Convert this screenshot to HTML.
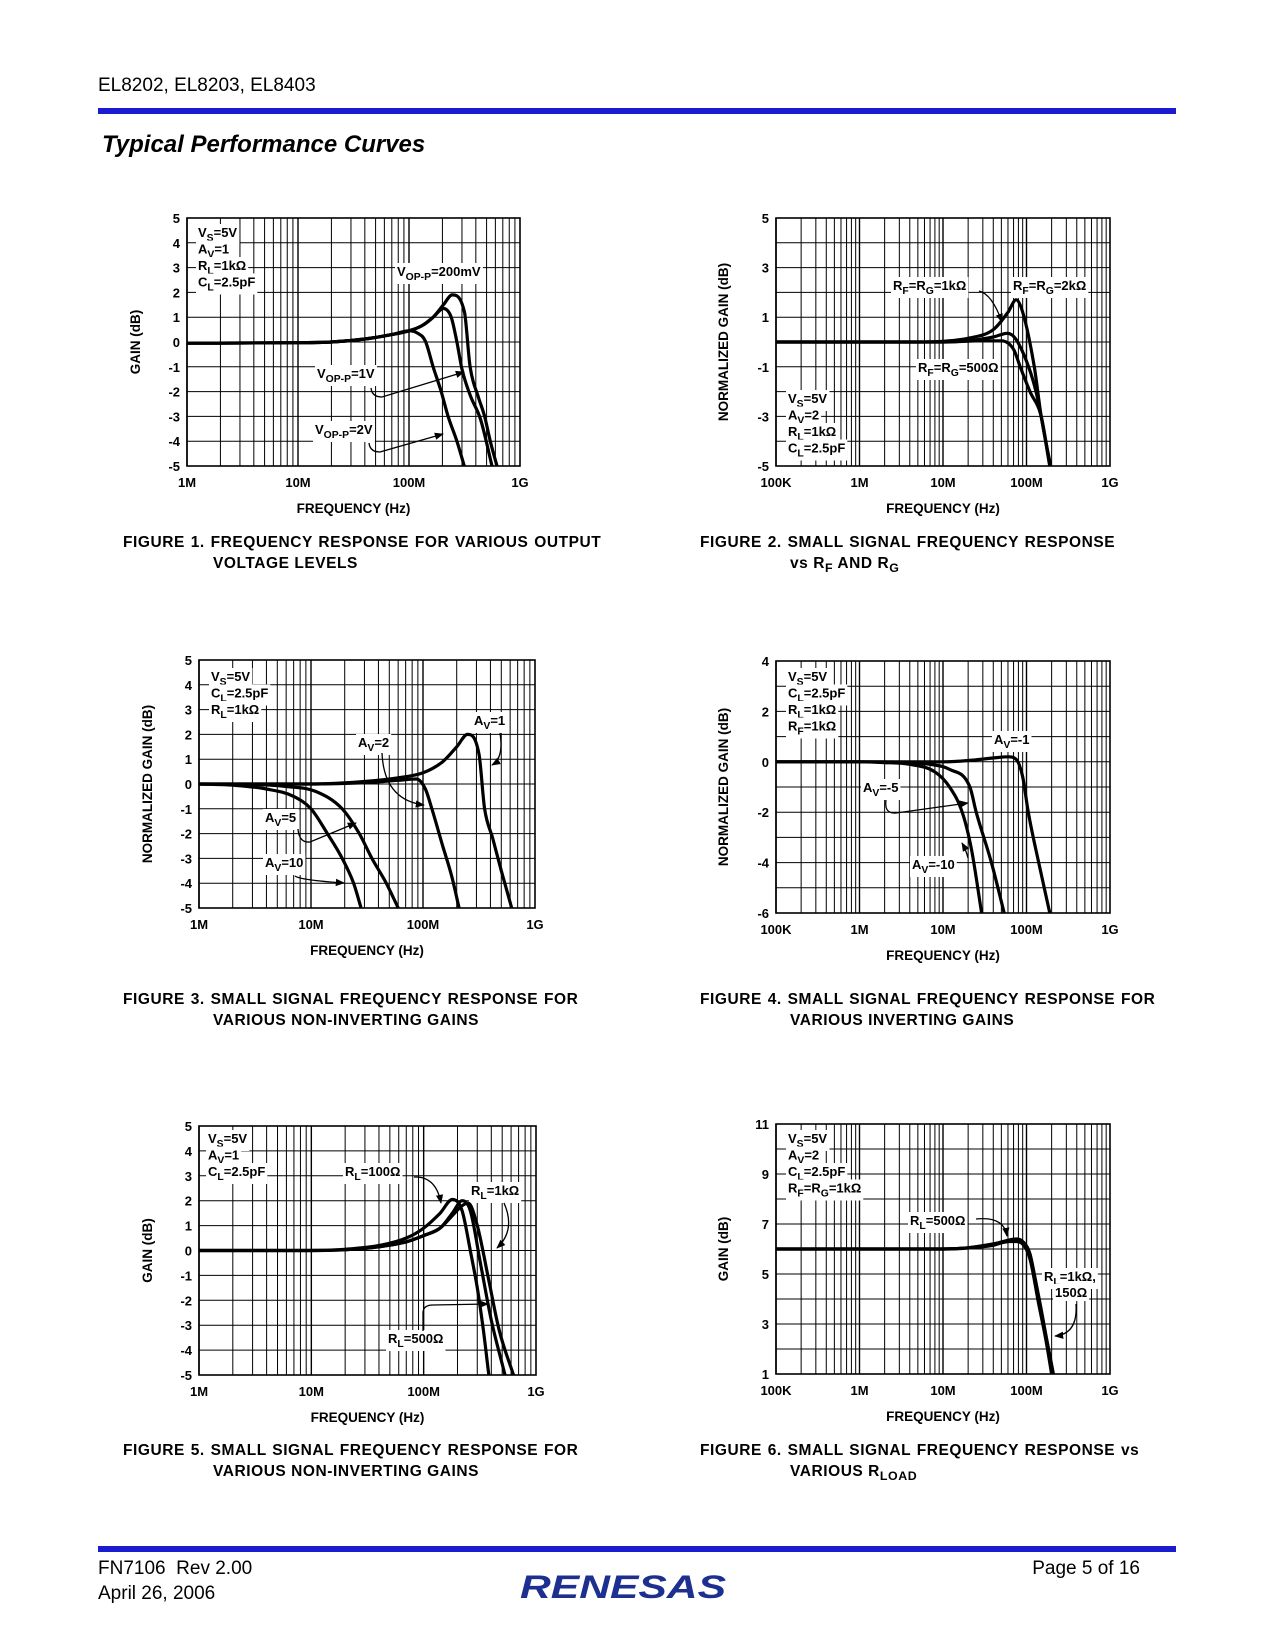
<!DOCTYPE html>
<html><head><meta charset="utf-8"><style>
html,body{margin:0;padding:0;background:#fff}
svg{display:block}
text{font-family:"Liberation Sans",Arial,sans-serif}
</style></head><body>
<svg id="page" width="1275" height="1650" viewBox="0 0 1275 1650" xmlns="http://www.w3.org/2000/svg">
<defs><marker id="ah" viewBox="0 0 10 10" refX="9" refY="5" markerWidth="7" markerHeight="7" orient="auto"><path d="M0,1 L10,5 L0,9 z" fill="#000"/></marker></defs>
<rect width="1275" height="1650" fill="#fff"/>
<text x="98" y="91" font-size="19">EL8202, EL8203, EL8403</text>
<rect x="98" y="108" width="1078" height="6" fill="#1b1bd0"/>
<text x="102" y="152" font-size="24" font-weight="bold" font-style="italic">Typical Performance Curves</text>
<rect x="98" y="1546" width="1078" height="6" fill="#1b1bd0"/>
<text x="98" y="1574" font-size="19" xml:space="preserve">FN7106  Rev 2.00</text>
<text x="98" y="1599" font-size="19">April 26, 2006</text>
<text x="1140" y="1574" font-size="19" text-anchor="end">Page 5 of 16</text>
<text x="520" y="1598" font-size="32" font-weight="bold" font-style="italic" fill="#1d2f8f" textLength="206" lengthAdjust="spacingAndGlyphs">RENESAS</text>
<g id="charts"></g>
</svg>
<script>
// ---------- DATA (frequencies in MHz, gains in dB) ----------
// Figure 1
const f1Freq200 = [1,10,20,40,70,100,130,165,204,245,316,355,420,480,540,620];
const f1Gain200 = [-0.05,-0.03,0,0.12,0.3,0.45,0.65,1.0,1.5,1.9,1.2,-1,-2.2,-3,-4,-5];
const f1Freq1V = [1,10,20,40,70,100,130,165,204,240,270,300,360,440,560];
const f1Gain1V = [-0.05,-0.03,0,0.12,0.3,0.45,0.65,1.0,1.35,1.0,0,-1.1,-2.2,-3.1,-5];
const f1Freq2V = [1,10,20,40,70,100,120,140,165,195,225,270,315];
const f1Gain2V = [-0.05,-0.03,0,0.12,0.3,0.45,0.35,0.05,-1,-2,-3,-4,-5];
const f1YTicks = ["5","4","3","2","1","0","-1","-2","-3","-4","-5"];
const f1XTicks = ["1M","10M","100M","1G"];
// Figure 2
const f2Freq500 = [0.1,1,10,30,50,70,84,110,150,190];
const f2Gain500 = [0,0,0,0.05,0.05,-0.3,-1,-2,-3,-5];
const f2Freq1k = [0.1,1,10,20,40,59,75,106,130,150,190];
const f2Gain1k = [0,0,0,0.05,0.2,0.35,0.1,-1,-2,-3,-5];
const f2Freq2k = [0.1,1,5,10,20,40,60,75,90,124,150,195];
const f2Gain2k = [0,0,0,0.03,0.15,0.5,1.2,1.7,1.2,-1,-3,-5];
const f2YTicks = ["5","3","1","-1","-3","-5"];
const f2XTicks = ["100K","1M","10M","100M","1G"];
// Figure 3
const f3FreqAv1 = [1,10,30,60,100,150,200,250,316,355,420,500,620];
const f3GainAv1 = [0,0,0.1,0.25,0.45,0.9,1.5,2.0,1.2,-1,-2.2,-3.5,-5];
const f3FreqAv2 = [1,10,30,60,87,105,120,150,180,210];
const f3GainAv2 = [0,0,0.05,0.15,0.2,-0.2,-1,-2.5,-3.7,-5];
const f3FreqAv5 = [1,3,6,11,19,27,35,47,60];
const f3GainAv5 = [0,-0.02,-0.1,-0.3,-1,-2,-3,-4,-5];
const f3FreqAv10 = [1,2,4,7,10,14,19,24,28];
const f3GainAv10 = [0,-0.05,-0.2,-0.5,-1,-2,-3,-4,-5];
const f3YTicks = ["5","4","3","2","1","0","-1","-2","-3","-4","-5"];
const f3XTicks = ["1M","10M","100M","1G"];
// Figure 4
const f4FreqAvm1 = [0.1,1,10,20,40,60,75,90,105,140,190];
const f4GainAvm1 = [0,0,0,0.05,0.15,0.2,0.1,-0.6,-2,-4,-6];
const f4FreqAvm5 = [0.1,1,3,7,12,21,25,38,54];
const f4GainAvm5 = [0,0,-0.02,-0.1,-0.3,-1,-2,-4,-6];
const f4FreqAvm10 = [0.1,1,2,4,8,12,17,22,29];
const f4GainAvm10 = [0,0,-0.03,-0.1,-0.4,-1,-2,-3.5,-6];
const f4YTicks = ["4","2","0","-2","-4","-6"];
const f4XTicks = ["100K","1M","10M","100M","1G"];
// Figure 5
const f5FreqR100 = [1,10,20,40,70,100,140,180,220,260,300,340,380];
const f5GainR100 = [0,0,0.05,0.2,0.5,0.9,1.5,2.05,1.6,0,-1.5,-3.2,-5];
const f5FreqR500 = [1,10,20,40,70,100,140,180,220,260,320,400,530];
const f5GainR500 = [0,0,0.03,0.15,0.35,0.6,0.9,1.5,2.0,1.6,-0.5,-2.8,-5];
const f5FreqR1k = [1,10,20,40,70,100,140,180,220,250,300,380,470,630];
const f5GainR1k = [0,0,0.03,0.15,0.35,0.6,0.9,1.4,1.8,1.9,1.0,-1.2,-3.2,-5];
const f5YTicks = ["5","4","3","2","1","0","-1","-2","-3","-4","-5"];
const f5XTicks = ["1M","10M","100M","1G"];
// Figure 6
const f6FreqR500 = [0.1,1,10,20,40,60,75,90,110,140,170,205];
const f6GainR500 = [6,6,6,6.05,6.2,6.35,6.4,6.3,5.8,4,2.5,1];
const f6FreqR1k = [0.1,1,10,20,40,60,75,90,110,140,170,200];
const f6GainR1k = [6,6,6,6.05,6.2,6.3,6.35,6.2,5.6,3.8,2.4,1];
const f6FreqR150 = [0.1,1,10,20,40,60,75,90,110,140,170,210];
const f6GainR150 = [6,6,6,6.04,6.15,6.3,6.3,6.2,5.7,4.1,2.6,1];
const f6YTicks = ["11","9","7","5","3","1"];
const f6XTicks = ["100K","1M","10M","100M","1G"];

// ---------- DRAWING ----------
const NS = "http://www.w3.org/2000/svg";
const root = document.getElementById('charts');
function mk(tag, attrs, parent){const e=document.createElementNS(NS,tag);for(const k in attrs)e.setAttribute(k,attrs[k]);(parent||root).appendChild(e);return e;}
function richText(parent, x, y, str, size, anchor){
  const t = mk('text',{x:x,y:y,'font-size':size,'font-weight':'bold','text-anchor':anchor||'start'},parent);
  const re=/_\{([^}]*)\}/g;let last=0,m;
  while((m=re.exec(str))){
    if(m.index>last){const s=mk('tspan',{},t);s.textContent=str.slice(last,m.index);}
    const sub=mk('tspan',{dy:4,'font-size':size*0.8},t);sub.textContent=m[1];
    const back=mk('tspan',{dy:-4},t);back.textContent='\u200b';
    last=re.lastIndex;
  }
  if(last<str.length){const s=mk('tspan',{},t);s.textContent=str.slice(last);}
  return t;
}
function boxed(g, x, y, str, size){
  const r = mk('rect',{fill:'#fff'},g);
  const t = richText(g,x,y,str,size);
  const b = t.getBBox();
  r.setAttribute('x',b.x-2);r.setAttribute('y',b.y-1);r.setAttribute('width',b.width+4);r.setAttribute('height',b.height+2);
  return t;
}
// monotone cubic (Fritsch-Carlson) in pixel space
function monoPath(pts){
  const n=pts.length, dx=[], m=[], t=[];
  for(let i=0;i<n-1;i++){dx.push(pts[i+1][0]-pts[i][0]); m.push((pts[i+1][1]-pts[i][1])/dx[i]);}
  t[0]=m[0]; t[n-1]=m[n-2];
  for(let i=1;i<n-1;i++){ t[i] = (m[i-1]*m[i]<=0)?0:(m[i-1]+m[i])/2; }
  for(let i=0;i<n-1;i++){
    if(m[i]===0){t[i]=0;t[i+1]=0;continue;}
    const a=t[i]/m[i], b=t[i+1]/m[i], s=a*a+b*b;
    if(s>9){const k=3/Math.sqrt(s); t[i]=k*a*m[i]; t[i+1]=k*b*m[i];}
  }
  let d='M'+pts[0][0].toFixed(1)+','+pts[0][1].toFixed(1);
  for(let i=0;i<n-1;i++){
    const h=dx[i]/3;
    d+=' C'+(pts[i][0]+h).toFixed(1)+','+(pts[i][1]+t[i]*h).toFixed(1)+' '+(pts[i+1][0]-h).toFixed(1)+','+(pts[i+1][1]-t[i+1]*h).toFixed(1)+' '+pts[i+1][0].toFixed(1)+','+pts[i+1][1].toFixed(1);
  }
  return d;
}
function drawChart(c){
  const g = mk('g',{});
  
  
  const X = f => c.x + (Math.log10(f) - Math.log10(c.f0)) / c.nDec * c.w;
  const Y = v => c.y + (c.yMax - v) / (c.yMax - c.yMin) * c.h;
  const clip = mk('clipPath',{id:c.name+'-clip'},g);
  mk('rect',{x:c.x,y:c.y,width:c.w,height:c.h},clip);
  const grid = mk('g',{stroke:'#000','stroke-width':1},g);
  
  
  for(let d=0; d<c.nDec; d++){
    for(let k=1;k<=9;k++){
      const xx = X(c.f0*Math.pow(10,d)*k);
      mk('line',{x1:xx,x2:xx,y1:c.y,y2:c.y+c.h,'stroke-width':k===1?1.4:1},grid);
    }
  }
  for(let v=c.yMin; v<=c.yMax; v+=1){ const yy=Y(v); mk('line',{x1:c.x,x2:c.x+c.w,y1:yy,y2:yy},grid); }
  mk('rect',{x:c.x,y:c.y,width:c.w,height:c.h,fill:'none',stroke:'#000','stroke-width':1.6},g);
  const ann = mk('g',{},g);
  
  
  c.info.forEach((s,i)=>{ boxed(ann, c.infoX, c.infoY+i*16.5, s, 13); });
  (c.labels||[]).forEach(l=>{ boxed(ann, l[0], l[1], l[2], 13); });
  const cg = mk('g',{'clip-path':'url(#'+c.name+'-clip)',fill:'none',stroke:'#000','stroke-width':3.2,'stroke-linejoin':'round'},g);
  c.series.forEach(s=>{
    const pts = s.f.map((f,i)=>[X(f), Y(s.g[i])]);
    const p = mk('path',{d:monoPath(pts)},cg);
    
    
  });
  (c.arrows||[]).forEach(a=>{ mk('path',{d:a,fill:'none',stroke:'#000','stroke-width':1.3,'marker-end':'url(#ah)'},g); });
  const yt = mk('g',{},g);
  
  
  c.yTicks.forEach((lab,i)=>{
    const v = c.yMax - i*c.yLabelStep;
    richText(yt, c.x-7, Y(v)+5, lab, 13, 'end');
  });
  const xt = mk('g',{},g);
  
  
  c.xTicks.forEach((lab,i)=>{ richText(xt, X(c.f0*Math.pow(10,i)), c.y+c.h+21, lab, 13, 'middle'); });
  const xtTitle = richText(g, c.x+c.w/2, c.y+c.h+47, 'FREQUENCY (Hz)', 13.5, 'middle');
  
  
  const ytTitle = richText(g, 0, 0, c.yTitle, 13.5, 'middle');
  ytTitle.setAttribute('transform','translate('+c.yTitleX+','+(c.y+c.h/2)+') rotate(-90)');
  
  
  c.caption.forEach((s,i)=>{
    const t = richText(g, i===0?c.capX:c.capX2, c.capY+i*21, s, 15.5);
    t.setAttribute('letter-spacing','0.55');
    t.setAttribute('word-spacing', i===0?'1':'0');
    
    
  });
}

drawChart({name:'figure-1',x:187,y:218,w:333,h:248,f0:1,nDec:3,yMax:5,yMin:-5,yLabelStep:1,
  yTicks:f1YTicks,xTicks:f1XTicks,yTitle:'GAIN (dB)',yTitleX:140,
  info:['V_{S}=5V','A_{V}=1','R_{L}=1kΩ','C_{L}=2.5pF'],infoX:198,infoY:237,
  labels:[[397,276,'V_{OP-P}=200mV'],[317,378,'V_{OP-P}=1V'],[315,434,'V_{OP-P}=2V']],
  arrows:['M371,388 Q372,397 382,397 L464,372','M369,443 Q370,452 380,452 L443,434'],
  series:[{name:'vop-200mV-curve',f:f1Freq200,g:f1Gain200},{name:'vop-1V-curve',f:f1Freq1V,g:f1Gain1V},{name:'vop-2V-curve',f:f1Freq2V,g:f1Gain2V}],
  caption:['FIGURE 1.  FREQUENCY RESPONSE FOR VARIOUS OUTPUT','VOLTAGE LEVELS'],capX:123,capX2:213,capY:547});

drawChart({name:'figure-2',x:776,y:218,w:334,h:248,f0:0.1,nDec:4,yMax:5,yMin:-5,yLabelStep:2,
  yTicks:f2YTicks,xTicks:f2XTicks,yTitle:'NORMALIZED GAIN (dB)',yTitleX:728,
  info:['V_{S}=5V','A_{V}=2','R_{L}=1kΩ','C_{L}=2.5pF'],infoX:788,infoY:403,
  labels:[[893,290,'R_{F}=R_{G}=1kΩ'],[1013,290,'R_{F}=R_{G}=2kΩ'],[918,372,'R_{F}=R_{G}=500Ω']],
  arrows:['M979,291 Q992,294 1002,322'],
  series:[{name:'rf-500-curve',f:f2Freq500,g:f2Gain500},{name:'rf-1k-curve',f:f2Freq1k,g:f2Gain1k},{name:'rf-2k-curve',f:f2Freq2k,g:f2Gain2k}],
  caption:['FIGURE 2.  SMALL SIGNAL FREQUENCY RESPONSE','vs R_{F} AND R_{G}'],capX:700,capX2:790,capY:547});

drawChart({name:'figure-3',x:199,y:660,w:336,h:248,f0:1,nDec:3,yMax:5,yMin:-5,yLabelStep:1,
  yTicks:f3YTicks,xTicks:f3XTicks,yTitle:'NORMALIZED GAIN (dB)',yTitleX:152,
  info:['V_{S}=5V','C_{L}=2.5pF','R_{L}=1kΩ'],infoX:211,infoY:681,
  labels:[[474,725,'A_{V}=1'],[358,747,'A_{V}=2'],[265,822,'A_{V}=5'],[265,867,'A_{V}=10']],
  arrows:['M500,733 Q504,758 492,765','M382,753 Q384,800 424,805','M298,829 Q299,843 310,842 L356,823','M295,876 Q300,880 344,883'],
  series:[{name:'av1-curve',f:f3FreqAv1,g:f3GainAv1},{name:'av2-curve',f:f3FreqAv2,g:f3GainAv2},{name:'av5-curve',f:f3FreqAv5,g:f3GainAv5},{name:'av10-curve',f:f3FreqAv10,g:f3GainAv10}],
  caption:['FIGURE 3.  SMALL SIGNAL FREQUENCY RESPONSE FOR','VARIOUS NON-INVERTING GAINS'],capX:123,capX2:213,capY:1004});

drawChart({name:'figure-4',x:776,y:661,w:334,h:252,f0:0.1,nDec:4,yMax:4,yMin:-6,yLabelStep:2,
  yTicks:f4YTicks,xTicks:f4XTicks,yTitle:'NORMALIZED GAIN (dB)',yTitleX:728,
  info:['V_{S}=5V','C_{L}=2.5pF','R_{L}=1kΩ','R_{F}=1kΩ'],infoX:788,infoY:681,
  labels:[[994,744,'A_{V}=-1'],[863,792,'A_{V}=-5'],[912,869,'A_{V}=-10']],
  arrows:['M886,800 Q884,814 896,813 L968,803','M968,858 Q966,850 962,843'],
  series:[{name:'av-minus1-curve',f:f4FreqAvm1,g:f4GainAvm1},{name:'av-minus5-curve',f:f4FreqAvm5,g:f4GainAvm5},{name:'av-minus10-curve',f:f4FreqAvm10,g:f4GainAvm10}],
  caption:['FIGURE 4.  SMALL SIGNAL FREQUENCY RESPONSE FOR','VARIOUS INVERTING GAINS'],capX:700,capX2:790,capY:1004});

drawChart({name:'figure-5',x:199,y:1126,w:337,h:249,f0:1,nDec:3,yMax:5,yMin:-5,yLabelStep:1,
  yTicks:f5YTicks,xTicks:f5XTicks,yTitle:'GAIN (dB)',yTitleX:152,
  info:['V_{S}=5V','A_{V}=1','C_{L}=2.5pF'],infoX:208,infoY:1143,
  labels:[[345,1176,'R_{L}=100Ω'],[471,1195,'R_{L}=1kΩ'],[388,1343,'R_{L}=500Ω']],
  arrows:['M414,1177 Q436,1176 441,1203','M504,1203 Q516,1230 497,1248','M423,1331 L423,1313 Q423,1305 433,1305 L488,1304'],
  series:[{name:'rl-100-curve',f:f5FreqR100,g:f5GainR100},{name:'rl-500-curve',f:f5FreqR500,g:f5GainR500},{name:'rl-1k-curve',f:f5FreqR1k,g:f5GainR1k}],
  caption:['FIGURE 5.  SMALL SIGNAL FREQUENCY RESPONSE FOR','VARIOUS NON-INVERTING GAINS'],capX:123,capX2:213,capY:1455});

drawChart({name:'figure-6',x:776,y:1124,w:334,h:250,f0:0.1,nDec:4,yMax:11,yMin:1,yLabelStep:2,
  yTicks:f6YTicks,xTicks:f6XTicks,yTitle:'GAIN (dB)',yTitleX:728,
  info:['V_{S}=5V','A_{V}=2','C_{L}=2.5pF','R_{F}=R_{G}=1kΩ'],infoX:788,infoY:1143,
  labels:[[910,1225,'R_{L}=500Ω'],[1044,1281,'R_{L}=1kΩ,'],[1055,1297,'150Ω']],
  arrows:['M976,1219 Q1004,1216 1007,1236','M1076,1304 Q1078,1334 1055,1336'],
  series:[{name:'rl-500-curve',f:f6FreqR500,g:f6GainR500},{name:'rl-1k-curve',f:f6FreqR1k,g:f6GainR1k},{name:'rl-150-curve',f:f6FreqR150,g:f6GainR150}],
  caption:['FIGURE 6.  SMALL SIGNAL FREQUENCY RESPONSE vs','VARIOUS R_{LOAD}'],capX:700,capX2:790,capY:1455});
</script>
</body></html>
